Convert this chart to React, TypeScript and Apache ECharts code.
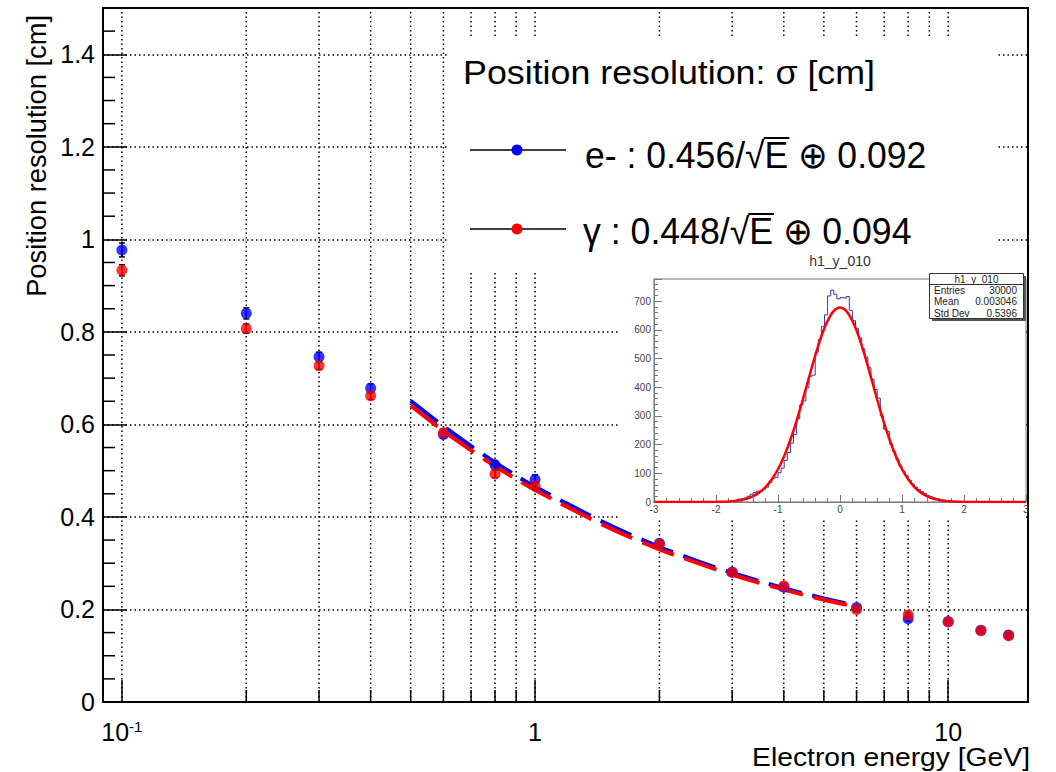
import React, { useEffect, useRef } from "react";
import * as echarts from "echarts";

const FONT = '"Liberation Sans", Arial, Helvetica, sans-serif';

// ---------- main plot data ----------
const energies = [0.1, 0.2, 0.3, 0.4, 0.6, 0.8, 1, 2, 3, 4, 6, 8, 10, 12, 14];
const sigmaElectron = [0.977, 0.84, 0.746, 0.678, 0.578, 0.512, 0.481, 0.343, 0.281, 0.248, 0.204, 0.18, 0.174, 0.155, 0.145];
const sigmaGamma = [0.933, 0.807, 0.727, 0.662, 0.582, 0.493, 0.467, 0.341, 0.28, 0.251, 0.2, 0.188, 0.173, 0.154, 0.143];
const errElectron = [0.015, 0.012, 0.01, 0.01, 0.008, 0.01, 0.01, 0.006, 0.005, 0.005, 0.005, 0.005, 0.004, 0.004, 0.004];
const errGamma = [0.012, 0.01, 0.008, 0.008, 0.008, 0.008, 0.008, 0.006, 0.005, 0.005, 0.005, 0.005, 0.004, 0.004, 0.004];

const fitEnergies = [0.5, 0.6, 0.7, 0.8, 0.9, 1, 1.5, 2, 2.5, 3, 4, 5, 6];
const fitElectron = [0.651, 0.596, 0.553, 0.518, 0.489, 0.465, 0.384, 0.335, 0.303, 0.279, 0.246, 0.224, 0.208];
const fitGamma = [0.641, 0.586, 0.544, 0.51, 0.482, 0.458, 0.378, 0.33, 0.299, 0.275, 0.243, 0.221, 0.206];

const gridEnergies = [0.1, 0.2, 0.3, 0.4, 0.5, 0.6, 0.7, 0.8, 0.9, 1, 2, 3, 4, 5, 6, 7, 8, 9, 10];
const minorTickEnergies = [0.2, 0.3, 0.4, 0.5, 0.6, 0.7, 0.8, 0.9, 2, 3, 4, 5, 6, 7, 8, 9];
const yMinorTicks = [0.05, 0.1, 0.15, 0.25, 0.3, 0.35, 0.45, 0.5, 0.55, 0.65, 0.7, 0.75, 0.85, 0.9, 0.95, 1.05, 1.1, 1.15, 1.25, 1.3, 1.35, 1.45];
const xTickValues = [0.1, 1, 10];
const xTickLabels = ["{a|10}{b|-1}", "{a|1}", "{a|10}"];

const xTitle = "Electron energy [GeV]";
const yTitle = "Position resolution [cm]";
const legendTitle = "Position resolution: σ [cm]";
const legendPre = ["e- : 0.456/√", "γ : 0.448/√"];
const legendRad = ["E", "E"];
const legendPost = [" ⊕ 0.092", " ⊕ 0.094"];
const legendColors = ["#0000ff", "#ff0000"];

// ---------- inset histogram data ----------
const insetTitle = "h1_y_010";
const histStart = -2;
const histBinWidth = 0.05;
const histCounts = [
  0, 0, 0, 1, 3, 5, 7, 10, 9, 14,
  20, 27, 33, 38, 36, 45, 52, 68, 82, 86,
  102, 118, 145, 172, 205, 236, 290, 338, 352, 398,
  438, 442, 522, 566, 612, 652, 718, 738, 724, 708,
  712, 710, 716, 668, 632, 604, 572, 534, 505, 468,
  428, 392, 362, 300, 254, 246, 202, 176, 150, 126,
  108, 92, 76, 62, 52, 44, 36, 30, 22, 18,
  14, 10, 7, 6, 4, 6, 3, 1, 0, 0,
];
const fitStart = -3;
const fitStep = 0.1;
const fitValues = [
  0, 0, 0, 0, 0, 0, 0, 0, 0,
  0.2, 0.5, 1.1, 2.1, 3.9, 7.1, 12.4, 20.7, 33.5, 52, 79, 114, 160, 217, 283, 357, 434, 510, 578, 631, 666,
  678,
  666, 631, 578, 510, 434, 357, 283, 217, 160, 114, 79, 52, 33.5, 20.7, 12.4, 7.1, 3.9, 2.1, 1.1, 0.5, 0.2,
  0, 0, 0, 0, 0, 0, 0, 0, 0,
];
const statsLabels = ["Entries", "Mean", "Std Dev"];
const statsValues = ["30000", "0.003046", "0.5396"];

export default function App() {
  const ref = useRef<HTMLDivElement>(null);

  useEffect(() => {
    const chart = echarts.init(ref.current!, null, { renderer: "svg" });
    const cv = document.createElement("canvas");
    const ctx = cv.getContext("2d")!;
    const measure = (t: string, size: number) => {
      ctx.font = `${size}px "Liberation Sans"`;
      return ctx.measureText(t).width;
    };

    const X_MIN = 0.09;
    const X_MAX = 15.6;

    // ---------- legend graphics ----------
    const graphics: any[] = [];
    // white boxes (legend + inset pad)
    graphics.push({ type: "rect", x: 448, y: 38, z: 3, shape: { width: 549, height: 232 }, style: { fill: "#fff" }, silent: true });
    graphics.push({ type: "rect", x: 619, y: 248, z: 3, shape: { width: 407, height: 271 }, style: { fill: "#fff" }, silent: true });

    const titleSize = 33;
    const titleScale = 412 / measure(legendTitle, titleSize);
    graphics.push({
      type: "text", x: 463, y: 72, scaleX: titleScale, z: 10,
      style: { text: legendTitle, fontSize: titleSize, fontFamily: FONT, fill: "#000", align: "left", verticalAlign: "middle" },
    });
    const entryLineY = [150, 229];
    const entryTextY = [155, 231];
    const entryTextX = [585, 583];
    const entryWidth = [342, 329];
    const entrySize = 37;
    for (let i = 0; i < 2; i++) {
      const full = legendPre[i] + legendRad[i] + legendPost[i];
      const s = entryWidth[i] / measure(full, entrySize);
      graphics.push({ type: "line", z: 10, shape: { x1: 470, y1: entryLineY[i], x2: 566, y2: entryLineY[i] }, style: { stroke: "#000", lineWidth: 1.5 } });
      graphics.push({ type: "circle", z: 11, shape: { cx: 517, cy: entryLineY[i], r: 5.5 }, style: { fill: legendColors[i] } });
      graphics.push({
        type: "text", x: entryTextX[i], y: entryTextY[i], scaleX: s, z: 10,
        style: { text: full, fontSize: entrySize, fontFamily: FONT, fill: "#000", align: "left", verticalAlign: "middle" },
      });
      const xs = entryTextX[i] + s * measure(legendPre[i], entrySize) - 1;
      const xe = entryTextX[i] + s * measure(legendPre[i] + legendRad[i], entrySize) + 1;
      const yo = entryTextY[i] - 17;
      graphics.push({ type: "line", z: 10, shape: { x1: xs, y1: yo, x2: xe, y2: yo }, style: { stroke: "#000", lineWidth: 2 } });
    }

    // axis titles
    const axisTitleSize = 26;
    graphics.push({
      type: "text", x: 1030, y: 757, z: 10, scaleX: 278 / measure(xTitle, axisTitleSize),
      style: { text: xTitle, fontSize: axisTitleSize, fontFamily: FONT, fill: "#000", align: "right", verticalAlign: "middle" },
    });
    graphics.push({
      type: "text", x: 37, y: 15, rotation: Math.PI / 2, z: 10, scaleX: 282 / measure(yTitle, 27),
      style: { text: yTitle, fontSize: 27, fontFamily: FONT, fill: "#000", align: "right", verticalAlign: "middle" },
    });

    // inset title and stats box
    graphics.push({
      type: "text", x: 840, y: 261, z: 10,
      style: { text: insetTitle, fontSize: 14, fontFamily: FONT, fill: "#333", align: "center", verticalAlign: "middle" },
    });
    graphics.push({ type: "rect", x: 932, y: 276, z: 10, shape: { width: 94, height: 45 }, style: { fill: "#555" } });
    graphics.push({ type: "rect", x: 929.5, y: 273.5, z: 11, shape: { width: 94, height: 45 }, style: { fill: "#fff", stroke: "#333", lineWidth: 1 } });
    graphics.push({ type: "line", z: 12, shape: { x1: 929.5, y1: 284.5, x2: 1023.5, y2: 284.5 }, style: { stroke: "#333", lineWidth: 1 } });
    graphics.push({
      type: "text", x: 976.5, y: 279, z: 12,
      style: { text: insetTitle, fontSize: 10, fontFamily: FONT, fill: "#222", align: "center", verticalAlign: "middle" },
    });
    for (let i = 0; i < statsLabels.length; i++) {
      const yy = 290 + i * 11.5;
      graphics.push({ type: "text", x: 934, y: yy, z: 12, style: { text: statsLabels[i], fontSize: 10, fontFamily: FONT, fill: "#222", align: "left", verticalAlign: "middle" } });
      graphics.push({ type: "text", x: 1017, y: yy, z: 12, style: { text: statsValues[i], fontSize: 10, fontFamily: FONT, fill: "#222", align: "right", verticalAlign: "middle" } });
    }

    const dotted = [1.5, 3];

    const histData: number[][] = [[-3, 0]];
    histCounts.forEach((c, i) => histData.push([histStart + i * histBinWidth, c]));
    histData.push([histStart + histCounts.length * histBinWidth, 0]);
    histData.push([3, 0]);
    const fitData = fitValues.map((v, i) => [fitStart + i * fitStep, v]);

    const insetAxisColor = "#777";

    const option: any = {
      animation: false,
      textStyle: { fontFamily: FONT },
      grid: [
        { left: 103, top: 8, right: 28, bottom: 70, show: true, borderColor: "#000", borderWidth: 2, backgroundColor: "transparent" },
        { left: 654, top: 279, width: 372, height: 223, show: true, borderColor: insetAxisColor, borderWidth: 1, z: 4, backgroundColor: "transparent" },
      ],
      xAxis: [
        {
          type: "log", logBase: 10, min: X_MIN, max: X_MAX, gridIndex: 0,
          axisLine: { show: true, onZero: false, lineStyle: { color: "#000", width: 2 } },
          axisTick: { show: true, inside: true, length: 22, lineStyle: { color: "#000", width: 1.5 } },
          minorTick: { show: false },
          splitLine: { show: false },
          axisLabel: {
            margin: 17, color: "#000",
            formatter: (v: number) => {
              for (let i = 0; i < xTickValues.length; i++) {
                if (Math.abs(v - xTickValues[i]) < 1e-6 * xTickValues[i]) return xTickLabels[i];
              }
              return "";
            },
            rich: {
              a: { fontSize: 25, fontFamily: FONT, color: "#000", lineHeight: 25 },
              b: { fontSize: 15, fontFamily: FONT, color: "#000", lineHeight: 12, verticalAlign: "top" },
            },
          },
        },
        {
          type: "value", gridIndex: 1, min: -3, max: 3, interval: 1, z: 5,
          axisLine: { show: true, onZero: false, lineStyle: { color: insetAxisColor, width: 1 } },
          axisTick: { show: true, inside: true, length: 7, lineStyle: { color: insetAxisColor } },
          minorTick: { show: true, splitNumber: 5, length: 4, lineStyle: { color: insetAxisColor } },
          splitLine: { show: false },
          axisLabel: { fontSize: 10, color: "#444", margin: 2 },
        },
      ],
      yAxis: [
        {
          type: "value", min: 0, max: 1.5, interval: 0.2, gridIndex: 0,
          axisLine: { show: true, onZero: false, lineStyle: { color: "#000", width: 2 } },
          axisTick: { show: true, inside: true, length: 24, lineStyle: { color: "#000", width: 1.5 } },
          minorTick: { show: false },
          splitLine: { show: true, lineStyle: { color: "#000", width: 1.5, type: dotted } },
          axisLabel: {
            fontSize: 25, color: "#000", margin: 8,
            formatter: (v: number) => (v > 1.45 ? "" : String(Number(v.toFixed(1)))),
          },
        },
        {
          type: "value", gridIndex: 1, min: 0, max: 777, interval: 100, z: 5,
          axisLine: { show: true, onZero: false, lineStyle: { color: insetAxisColor, width: 1 } },
          axisTick: { show: true, inside: true, length: 8, lineStyle: { color: insetAxisColor } },
          minorTick: { show: true, splitNumber: 5, length: 4, lineStyle: { color: insetAxisColor } },
          splitLine: { show: false },
          axisLabel: { fontSize: 10, color: "#444", margin: 3, formatter: (v: number) => (v > 700 ? "" : String(v)) },
        },
      ],
      graphic: { elements: graphics },
      series: [
        // vertical dotted grid lines
        {
          type: "custom", xAxisIndex: 0, yAxisIndex: 0, z: 1, silent: true,
          data: gridEnergies.map((e) => [e, 0]),
          renderItem: (params: any, api: any) => {
            const e = api.value(0);
            const p0 = api.coord([e, 0]);
            const p1 = api.coord([e, 1.5]);
            return { type: "line", shape: { x1: p0[0], y1: p0[1], x2: p1[0], y2: p1[1] }, style: { stroke: "#000", lineWidth: 1.5, lineDash: dotted } };
          },
        },
        // x minor ticks
        {
          type: "custom", xAxisIndex: 0, yAxisIndex: 0, z: 2, silent: true,
          data: minorTickEnergies.map((e) => [e, 0]),
          renderItem: (params: any, api: any) => {
            const p = api.coord([api.value(0), 0]);
            return { type: "line", shape: { x1: p[0], y1: p[1], x2: p[0], y2: p[1] - 12 }, style: { stroke: "#000", lineWidth: 1.5 } };
          },
        },
        // y minor ticks
        {
          type: "custom", xAxisIndex: 0, yAxisIndex: 0, z: 2, silent: true,
          data: yMinorTicks.map((v) => [X_MIN, v]),
          renderItem: (params: any, api: any) => {
            const p = api.coord([X_MIN, api.value(1)]);
            return { type: "line", shape: { x1: p[0], y1: p[1], x2: p[0] + 12, y2: p[1] }, style: { stroke: "#000", lineWidth: 1.5 } };
          },
        },
        // fit curves
        {
          type: "line", name: "fit e-", xAxisIndex: 0, yAxisIndex: 0, z: 4, showSymbol: false, smooth: 0.3,
          data: fitEnergies.map((e, i) => [e, fitElectron[i]]),
          lineStyle: { color: "#0000ff", width: 4, type: [34, 11] },
        },
        {
          type: "line", name: "fit gamma", xAxisIndex: 0, yAxisIndex: 0, z: 4, showSymbol: false, smooth: 0.3,
          data: fitEnergies.map((e, i) => [e, fitGamma[i]]),
          lineStyle: { color: "#ff0000", width: 4, type: [34, 11] },
        },
        // error bars
        {
          type: "custom", xAxisIndex: 0, yAxisIndex: 0, z: 5, silent: true,
          data: energies.map((e, i) => [e, sigmaElectron[i], errElectron[i]]).concat(energies.map((e, i) => [e, sigmaGamma[i], errGamma[i]])),
          renderItem: (params: any, api: any) => {
            const x = api.value(0), y = api.value(1), er = api.value(2);
            const t = api.coord([x, y + er]);
            const b = api.coord([x, y - er]);
            const st = { stroke: "#000", lineWidth: 1.5 };
            return {
              type: "group",
              children: [
                { type: "line", shape: { x1: t[0], y1: t[1], x2: b[0], y2: b[1] }, style: st },
                { type: "line", shape: { x1: t[0] - 3, y1: t[1], x2: t[0] + 3, y2: t[1] }, style: st },
                { type: "line", shape: { x1: b[0] - 3, y1: b[1], x2: b[0] + 3, y2: b[1] }, style: st },
              ],
            };
          },
        },
        {
          type: "scatter", name: "e-", xAxisIndex: 0, yAxisIndex: 0, z: 6, symbol: "circle", symbolSize: 11,
          data: energies.map((e, i) => [e, sigmaElectron[i]]),
          itemStyle: { color: "#0000ff" },
        },
        {
          type: "scatter", name: "gamma", xAxisIndex: 0, yAxisIndex: 0, z: 7, symbol: "circle", symbolSize: 11,
          data: energies.map((e, i) => [e, sigmaGamma[i]]),
          itemStyle: { color: "#ff0000" },
        },
        // inset histogram
        {
          type: "line", xAxisIndex: 1, yAxisIndex: 1, z: 6, step: "end", showSymbol: false,
          data: histData,
          lineStyle: { color: "#3333cc", width: 1 },
        },
        {
          type: "line", xAxisIndex: 1, yAxisIndex: 1, z: 7, showSymbol: false, smooth: 0.3,
          data: fitData,
          lineStyle: { color: "#ff0000", width: 2.5 },
        },
      ],
    };

    chart.setOption(option);
    return () => chart.dispose();
  }, []);

  return (
    <div
      ref={ref}
      style={{ position: "fixed", left: 0, top: 0, width: 1056, height: 772, background: "#fff" }}
    />
  );
}
